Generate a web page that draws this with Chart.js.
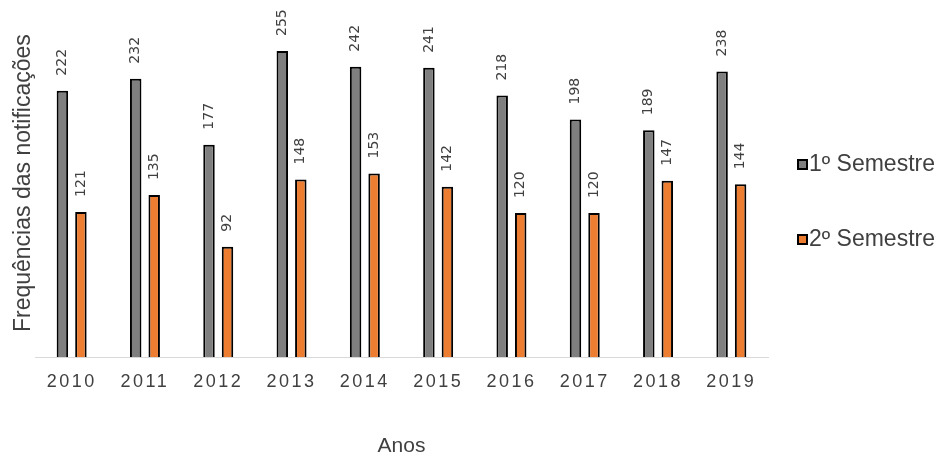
<!DOCTYPE html>
<html>
<head>
<meta charset="utf-8">
<script src="https://cdn.jsdelivr.net/npm/chart.js@4/dist/chart.umd.min.js"></script>
<style>
  html, body { margin: 0; padding: 0; background: #ffffff; }
  #wrap { width: 940px; height: 460px; }
</style>
</head>
<body>
<div id="wrap"><canvas id="barras"></canvas></div>
<script>
const anos = ["2010", "2011", "2012", "2013", "2014", "2015", "2016", "2017", "2018", "2019"];
const primeiroSemestre = [222, 232, 177, 255, 242, 241, 218, 198, 189, 238];
const segundoSemestre = [121, 135, 92, 148, 153, 142, 120, 120, 147, 144];
const nomesSeries = ["1º Semestre", "2º Semestre"];

const corTexto = "#404040";

// valores escritos na vertical acima de cada barra
const rotulosBarras = {
  id: "rotulosBarras",
  afterDatasetsDraw(chart) {
    const ctx = chart.ctx;
    ctx.save();
    ctx.font = "14px 'DejaVu Sans'";
    ctx.fillStyle = corTexto;
    ctx.textAlign = "left";
    ctx.textBaseline = "middle";
    chart.data.datasets.forEach((ds, i) => {
      chart.getDatasetMeta(i).data.forEach((bar, j) => {
        ctx.save();
        ctx.translate(bar.x, bar.y - 15);
        ctx.rotate(-Math.PI / 2);
        ctx.fillText(String(ds.data[j]), 0, 0);
        ctx.restore();
      });
    });
    ctx.restore();
  },
};

// legenda à direita, um item por série
const legendaDireita = {
  id: "legendaDireita",
  afterDraw(chart) {
    const ctx = chart.ctx;
    const linhas = [164, 239];
    ctx.save();
    ctx.font = "23px 'Liberation Sans', Arial";
    ctx.textBaseline = "middle";
    ctx.textAlign = "left";
    chart.data.datasets.forEach((ds, i) => {
      const y = linhas[i];
      ctx.fillStyle = "#000000";
      ctx.fillRect(797, y - 5, 11, 11);
      ctx.fillStyle = ds.backgroundColor;
      ctx.fillRect(799, y - 3, 7, 7);
      ctx.fillStyle = corTexto;
      ctx.fillText(ds.label, 809, y + 1);
    });
    ctx.restore();
  },
};

// espaçamento entre os dígitos dos anos
const espacoAnos = {
  id: "espacoAnos",
  afterLayout(chart) {
    const x = chart.scales.x;
    if (x._espacado) return;
    const original = x.drawLabels.bind(x);
    x.drawLabels = (area) => {
      chart.ctx.save();
      chart.ctx.letterSpacing = "2.5px";
      original(area);
      chart.ctx.restore();
    };
    x._espacado = true;
  },
};

new Chart(document.getElementById("barras"), {
  type: "bar",
  data: {
    labels: anos,
    datasets: [
      {
        label: nomesSeries[0],
        data: primeiroSemestre,
        backgroundColor: "#7f7f7f",
        borderColor: "#000000",
        borderWidth: 2,
        borderSkipped: "bottom",
        categoryPercentage: 0.505,
        barPercentage: 0.62,
      },
      {
        label: nomesSeries[1],
        data: segundoSemestre,
        backgroundColor: "#ed7d31",
        borderColor: "#000000",
        borderWidth: 2,
        borderSkipped: "bottom",
        categoryPercentage: 0.505,
        barPercentage: 0.62,
      },
    ],
  },
  options: {
    responsive: true,
    maintainAspectRatio: false,
    animation: false,
    layout: {
      padding: { top: 9, right: 172, bottom: 0, left: 0 },
    },
    plugins: {
      legend: { display: false },
      tooltip: { enabled: false },
    },
    scales: {
      x: {
        grid: { display: false, drawTicks: false },
        border: { display: true, color: "#d9d9d9", width: 1 },
        ticks: {
          color: corTexto,
          padding: 14,
          font: { family: "'Liberation Sans', Arial", size: 18 },
        },
        title: {
          display: true,
          text: "Anos",
          color: corTexto,
          padding: { top: 27, bottom: 1 },
          font: { family: "'Liberation Sans', Arial", size: 21 },
        },
      },
      y: {
        min: 0,
        max: 290,
        grid: { display: false, drawTicks: false },
        border: { display: false },
        ticks: { display: false },
        title: {
          display: true,
          text: "Frequências das notificações",
          color: corTexto,
          padding: { top: 12, bottom: 0 },
          font: { family: "'Liberation Sans', Arial", size: 23, lineHeight: 1 },
        },
      },
    },
  },
  plugins: [rotulosBarras, legendaDireita, espacoAnos],
});
</script>
</body>
</html>
